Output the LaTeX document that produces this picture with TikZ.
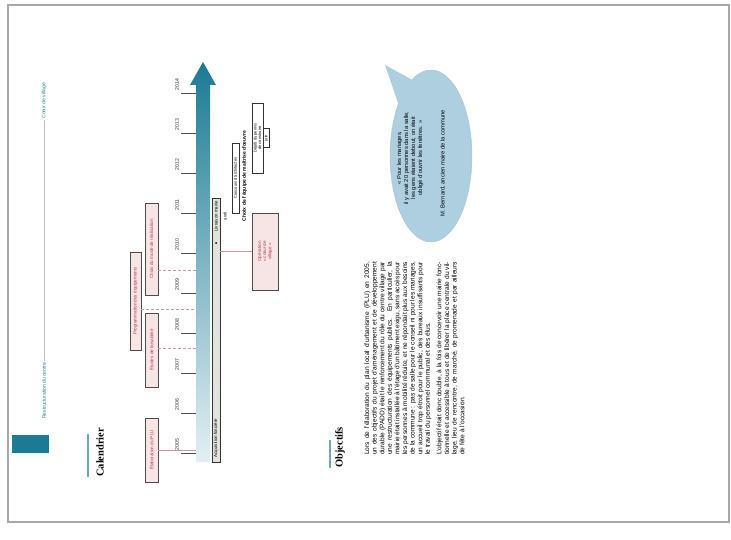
\documentclass[tikz,border=0pt]{standalone}
\usepackage{fontspec}
\setmainfont{Liberation Sans}
\newfontfamily\titlefont{Liberation Serif}
\usetikzlibrary{positioning,shapes.geometric}
\definecolor{tealfonce}{RGB}{28,122,148}
\definecolor{tealclair}{RGB}{226,240,244}
\definecolor{rosefond}{RGB}{247,229,229}
\definecolor{rosetexte}{RGB}{180,60,72}
\definecolor{roseligne}{RGB}{206,150,156}
\definecolor{bulle}{RGB}{174,207,224}
\definecolor{cadre}{RGB}{168,168,168}
\definecolor{barregris}{RGB}{226,226,222}
\tikzset{
  etape/.style={draw=black!70, fill=rosefond, text=rosetexte, rotate=90, align=center,
    font=\fontsize{4.6}{5.2}\selectfont, inner sep=0.6pt, line width=0.6pt},
  annee/.style={rotate=90, anchor=west, text=black!80, inner sep=0.4pt,
    font=\fontsize{5.2}{5.5}\selectfont},
  evenement/.style={draw=black!80, fill=white, rotate=90, align=center,
    font=\fontsize{4}{4.5}\selectfont, inner sep=0.5pt, line width=0.5pt},
  textebarre/.style={rotate=90, inner sep=0.6pt, font=\fontsize{4.4}{4.6}\selectfont},
  titre/.style={rotate=90, anchor=west, inner sep=0pt,
    font=\titlefont\bfseries\fontsize{10.5}{11}\selectfont},
  entete/.style={rotate=90, text=tealfonce, inner sep=1pt, font=\fontsize{5}{5.5}\selectfont},
  filet/.style={tealfonce!65, line width=1.6pt},
  lien/.style={roseligne, line width=0.5pt},
  lienpoint/.style={roseligne, line width=0.6pt, densely dashed},
}
\begin{document}
\begin{tikzpicture}[x=1pt,y=-1pt]
\useasboundingbox (0,0) rectangle (731,540);
\draw[cadre, line width=1.6pt] (8,5) rectangle (729,522);

\fill[tealfonce] (12,435) rectangle (49,453);
\node[entete, anchor=east] (fiche) at (44,82) {Cœur de village};
\node[entete, anchor=west] (theme) at (44,420) {Restructuration du centre};
\draw[cadre!70, line width=0.4pt] (fiche.west) -- (theme.east);

\node[titre] (calendrier) at (100,477) {Calendrier};
\draw[filet] (88,477) -- (88,434);

\shade[top color=tealfonce, middle color=tealfonce!75!tealclair, bottom color=tealclair]
  (196,462) -- (196,85) -- (190,85) -- (203,62) -- (216,85) -- (210,85) -- (210,462) -- cycle;
\foreach \an [count=\i from 0] in {2005,...,2014}{
  \coordinate (t\an) at (196,{453-40*\i});
  \draw[black!70, line width=0.5pt] (181,{453-40*\i}) -- (t\an);
  \node[annee] (a\an) at (177,{451-40*\i}) {\an};
}

\node[etape, minimum width=64pt, minimum height=13pt] (plu) at (151.5,450) {Élaboration du PLU};
\node[etape, minimum width=74pt, minimum height=13pt] (etudes) at (151.5,350) {Études de faisabilité};
\node[etape, minimum width=98pt, minimum height=11pt] (programme) at (135.5,301) {Programmation des équipements};
\node[etape, minimum width=92pt, minimum height=13pt] (choix) at (151.5,249) {Choix du mode de réalisation};
\coordinate (m1) at (196,270);
\coordinate (m2) at (196,309);
\coordinate (m3) at (196,348);
\draw[lien] (plu.south) -- (plu.south -| t2005);
\draw[lienpoint] (m1 -| choix.south) -- (m1);
\draw[lienpoint] (m2 -| programme.south) -- (m2);
\draw[lienpoint] (m3 -| etudes.south) -- (m3);

\node[draw=black!80, fill=barregris, rotate=90, minimum width=264pt, minimum height=8pt,
  inner sep=0pt, line width=0.6pt] (barre) at (216,330) {};
\node[textebarre, anchor=west] (acquisition) at (216,458) {Acquisition foncière};
\node[textebarre, anchor=east] (livraison) at (216,200) {Livraison mairie};
\fill (216,243) circle (1pt);
\node[textebarre, anchor=west] (travaux) at (225,221) {avril};

\node[evenement, minimum width=70pt, minimum height=7pt] (concours) at (235.5,178) {Concours d'architectes};
\node[rotate=90, inner sep=0pt, font=\bfseries\fontsize{5}{5.2}\selectfont] (laureat) at (244.5,176)
  {Choix de l'équipe de maîtrise d'œuvre};
\node[evenement, minimum width=70pt, minimum height=11pt] (permis) at (257.5,138) {Dépôt du permis\\de construire};
\node[evenement, minimum width=19pt, minimum height=6pt, anchor=north] (juin) at (263,138) {juin};

\node[etape, minimum width=77pt, minimum height=26pt] (operation) at (265,251.5)
  {Opération\\« cœur de\\village »};
\draw[lien] (barre.south |- operation.north) -- (operation.north);

\node[titre] (objectifs) at (340,468) {Objectifs};
\draw[filet] (330,468) -- (330,440);
\node[rotate=90, anchor=north west, text width=193pt, inner sep=0pt, align=justify,
  font=\fontsize{6.6}{7.6}\selectfont] (texte) at (364,455)
  {Lors de l'élaboration du plan local d'urbanisme (PLU) en 2005, un des objectifs du projet
  d'aménagement et de développement durable (PADD) était le renforcement du rôle du centre village
  par une restructuration des équipements publics. En particulier, la mairie était installée à
  l'étage d'un bâtiment exigu, sans accès pour les personnes à mobilité réduite, et ne répondait
  plus aux besoins de la commune : pas de salle pour le conseil ni pour les mariages, un accueil
  trop étroit pour le public, des bureaux insuffisants pour le travail du personnel communal et des élus.\par
  \vspace{4pt}L'objectif était donc double, à la fois de concevoir une mairie fonctionnelle et accessible
  à tous et de libérer la place centrale du village, lieu de rencontre, de marché, de promenade et
  par ailleurs de fête à l'occasion.};

\node[ellipse, fill=bulle, draw=bulle!85!gray, line width=0.4pt, minimum width=82pt,
  minimum height=172pt] (bulle) at (431,156) {};
\coordinate (pointe) at (385,65);
\fill[bulle] (pointe) -- (bulle.122) -- (bulle.104) -- cycle;
\node[rotate=90, align=center, inner sep=0pt, font=\fontsize{5.8}{7}\selectfont] (citation) at (410,158)
  {« Pour les mariages,\\il y avait 20 personnes dans la salle,\\les gens étaient debout, on était\\obligé d'ouvrir les fenêtres. »};
\node[rotate=90, inner sep=0pt, font=\fontsize{5.8}{6}\selectfont] (auteur) at (443,163)
  {M. Bernard, ancien maire de la commune};
\end{tikzpicture}
\end{document}
